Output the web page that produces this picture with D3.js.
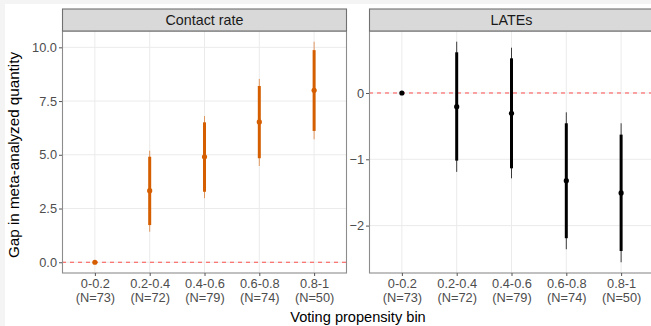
<!DOCTYPE html>
<html><head><meta charset="utf-8">
<script src="https://cdn.jsdelivr.net/npm/d3@7"></script>
<style>body{margin:0;background:#fff}svg{display:block}</style>
</head><body>
<script>
const categories = ["0-0.2","0.2-0.4","0.4-0.6","0.6-0.8","0.8-1"];
const catLabels2 = ["(N=73)","(N=72)","(N=79)","(N=74)","(N=50)"];
const panelTitles = ["Contact rate","LATEs"];
// Contact rate
const contactEst   = [0, 3.33, 4.91, 6.53, 8.00];
const contactLo95  = [null, 1.42, 2.98, 4.48, 5.72];
const contactHi95  = [null, 5.19, 6.80, 8.53, 10.26];
const contactLo80  = [null, 1.73, 3.28, 4.84, 6.11];
const contactHi80  = [null, 4.91, 6.51, 8.20, 9.87];
// LATEs
const lateEst   = [0, -0.207, -0.306, -1.322, -1.508];
const lateLo95  = [null, -1.19, -1.287, -2.357, -2.553];
const lateHi95  = [null, 0.774, 0.683, -0.291, -0.457];
const lateLo80  = [null, -1.02, -1.136, -2.19, -2.383];
const lateHi80  = [null, 0.614, 0.523, -0.457, -0.628];
const contactTicks = [0, 2.5, 5, 7.5, 10];
const lateTicks = [-2, -1, 0];

const W = 651, H = 326;
const FONT = "'Liberation Sans', Arial, sans-serif";
const svg = d3.select("body").append("svg").attr("width", W).attr("height", H)
  .style("font-family", FONT);
svg.append("rect").attr("width", W).attr("height", H).attr("fill", "#f4f4f4");
svg.append("rect").attr("x", 5).attr("y", 4).attr("width", W).attr("height", H).attr("fill", "#fff");

const stripTop = 9, panelTop = 31, panelBottom = 273;
const panels = [
  {title: panelTitles[0], x0: 62, x1: 347, domain: [-0.5, 10.76], ticks: contactTicks, fmt: d3.format(".1f"),
   est: contactEst, lo95: contactLo95, hi95: contactHi95, lo80: contactLo80, hi80: contactHi80, color: "#D55E00"},
  {title: panelTitles[1], x0: 369, x1: 654, domain: [-2.715, 0.935], ticks: lateTicks, fmt: d3.format("d"),
   est: lateEst, lo95: lateLo95, hi95: lateHi95, lo80: lateLo80, hi80: lateHi80, color: "#000000"}
];

panels.forEach(p => {
  const g = svg.append("g");
  const x = d3.scalePoint().domain(categories).range([p.x0, p.x1]).padding(0.6);
  const y = d3.scaleLinear().domain(p.domain).range([panelBottom, panelTop]);
  g.selectAll(".gy").data(p.ticks).join("line")
    .attr("x1", p.x0).attr("x2", p.x1).attr("y1", d => y(d)).attr("y2", d => y(d))
    .attr("stroke", "#ebebeb").attr("stroke-width", 1);
  g.selectAll(".gx").data(categories).join("line")
    .attr("x1", d => x(d)).attr("x2", d => x(d)).attr("y1", panelTop).attr("y2", panelBottom)
    .attr("stroke", "#ebebeb").attr("stroke-width", 1);
  g.append("line").attr("x1", p.x0).attr("x2", p.x1).attr("y1", y(0)).attr("y2", y(0))
    .attr("stroke", "#ff3333").attr("stroke-width", 1).attr("stroke-dasharray", "4,4").attr("opacity", 0.85);
  categories.forEach((c, i) => {
    if (p.lo95[i] !== null) {
      g.append("line").attr("x1", x(c)).attr("x2", x(c)).attr("y1", y(p.lo95[i])).attr("y2", y(p.hi95[i]))
        .attr("stroke", p.color).attr("stroke-width", 1).attr("opacity", p.color === "#000000" ? 0.75 : 0.6);
      g.append("line").attr("x1", x(c)).attr("x2", x(c)).attr("y1", y(p.lo80[i])).attr("y2", y(p.hi80[i]))
        .attr("stroke", p.color).attr("stroke-width", 3);
    }
    g.append("circle").attr("cx", x(c)).attr("cy", y(p.est[i])).attr("r", 2.6).attr("fill", p.color);
  });
  g.append("rect").attr("x", p.x0 + 0.5).attr("y", panelTop).attr("width", p.x1 - p.x0 - 1).attr("height", panelBottom - panelTop)
    .attr("fill", "none").attr("stroke", "#8c8c8c").attr("stroke-width", 1.1);
  g.append("rect").attr("x", p.x0 + 0.5).attr("y", stripTop).attr("width", p.x1 - p.x0 - 1).attr("height", panelTop - stripTop)
    .attr("fill", "#d9d9d9").attr("stroke", "#707070").attr("stroke-width", 1.1);
  g.append("text").attr("x", (p.x0 + p.x1) / 2).attr("y", panelTop - 6).attr("text-anchor", "middle")
    .attr("font-size", 14.3).attr("fill", "#1a1a1a").text(p.title);
  const ya = g.append("g").attr("transform", `translate(${p.x0},0)`)
    .call(d3.axisLeft(y).tickValues(p.ticks).tickFormat(p.fmt).tickSize(3).tickPadding(2));
  ya.select(".domain").remove();
  ya.selectAll(".tick line").attr("stroke", "#555");
  ya.selectAll(".tick text").attr("fill", "#4d4d4d").attr("font-size", 12.8).attr("font-family", FONT);
  const xa = g.append("g").attr("transform", `translate(0,${panelBottom})`)
    .call(d3.axisBottom(x).tickSize(3).tickFormat(""));
  xa.select(".domain").remove();
  xa.selectAll(".tick line").attr("stroke", "#555");
  xa.selectAll(".tick").each(function(d, i) {
    const t = d3.select(this).append("text").attr("fill", "#4d4d4d").attr("font-size", 12.8)
      .attr("text-anchor", "middle").attr("font-family", FONT);
    t.append("tspan").attr("x", 0).attr("y", 15).text(categories[i]);
    t.append("tspan").attr("x", 0).attr("y", 29).text(catLabels2[i]);
  });
});

svg.append("text").attr("x", 358).attr("y", 322).attr("text-anchor", "middle")
  .attr("font-size", 14.6).attr("fill", "#000").text("Voting propensity bin");
svg.append("text").attr("transform", "translate(19,155) rotate(-90)").attr("text-anchor", "middle")
  .attr("font-size", 15.2).attr("fill", "#000").text("Gap in meta-analyzed quantity");
</script>
</body></html>
